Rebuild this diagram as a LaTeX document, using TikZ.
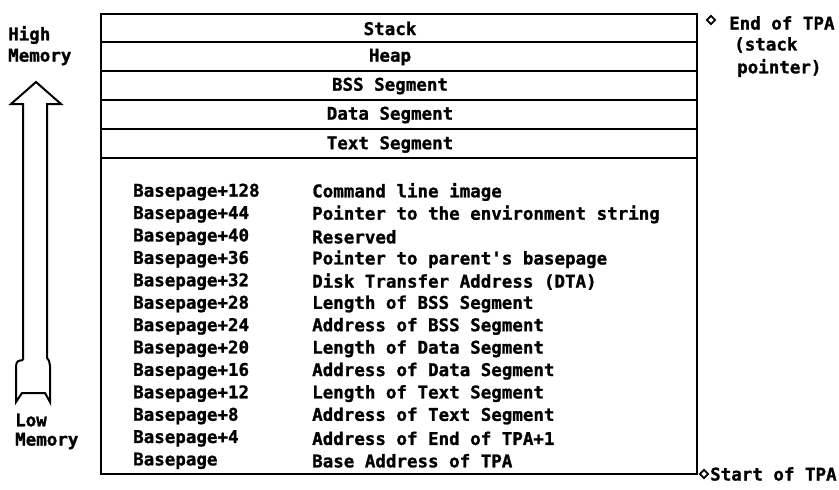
\documentclass[tikz,border=0pt]{standalone}
\usepackage{fontspec}
\setmainfont{DejaVu Sans Mono}[BoldFeatures={FakeBold=1.2}]
\usetikzlibrary{shapes.geometric}
\begin{document}
\begin{tikzpicture}[x=1pt,y=-1pt,
  txt/.style={font=\fontsize{17.5}{20}\selectfont\bfseries, inner sep=0pt, anchor=west},
  ctr/.style={font=\fontsize{17.5}{20}\selectfont\bfseries, inner sep=0pt, anchor=center},
  frame/.style={line width=2pt, draw=black},
  arr/.style={line width=2pt, draw=black, line join=miter},
  dmd/.style={diamond, draw=black, line width=1.8pt, inner sep=0pt, minimum width=9pt, minimum height=9pt}]
\useasboundingbox (0,0) rectangle (839,490);
% memory box
\coordinate (tl) at (101,14);
\coordinate (br) at (697,474);
\draw[frame] (tl) rectangle (br);
\foreach \yy in {42,71,100,129,158} \draw[frame] (101,\yy) -- (697,\yy);
% segment labels
\node[ctr] (stack) at (390,28.5) {Stack};
\node[ctr] (heap) at (390,57) {Heap};
\node[ctr] (bss) at (390,86) {BSS Segment};
\node[ctr] (data) at (390,115) {Data Segment};
\node[ctr] (text) at (390,144.5) {Text Segment};
% basepage list
\foreach \i/\a/\b in {0/Basepage+128/Command line image,
  1/Basepage+44/Pointer to the environment string,
  2/Basepage+40/Reserved,
  3/Basepage+36/Pointer to parent\textquotesingle s basepage,
  4/Basepage+32/Disk Transfer Address (DTA),
  5/Basepage+28/Length of BSS Segment,
  6/Basepage+24/Address of BSS Segment,
  7/Basepage+20/Length of Data Segment,
  8/Basepage+16/Address of Data Segment,
  9/Basepage+12/Length of Text Segment,
  10/Basepage+8/Address of Text Segment,
  11/Basepage+4/Address of End of TPA+1,
  12/Basepage/Base Address of TPA}{
  \node[txt] (off\i) at (133,192+\i*22.4) {\a};
  \node[txt] (desc\i) at (312,192+\i*22.4) {\b};
}
% left labels
\node[txt] (high) at (8,35) {High};
\node[txt] (highm) at (8,57) {Memory};
\node[txt] (low) at (15,420) {Low};
\node[txt] (lowm) at (15,441) {Memory};
% big arrow
\draw[arr] (23,360) -- (23,104) -- (11,104) -- (36,82) -- (61,104) -- (47,104) -- (47,358)
  .. controls (49,360) .. (50,366) -- (50,402) -- (45,393) -- (22,393) -- (16,402) -- (16,366) .. controls (17,361) .. (23,360);
% right labels
\node[dmd] (d1) at (711,20) {};
\node[txt] (end) at (729,23) {End of TPA};
\node[txt] (stk) at (734,45) {(stack};
\node[txt] (ptr) at (737,68) {pointer)};
\node[dmd] (d2) at (704,474) {};
\node[txt] (start) at (710,474) {Start of TPA};
\end{tikzpicture}
\end{document}
